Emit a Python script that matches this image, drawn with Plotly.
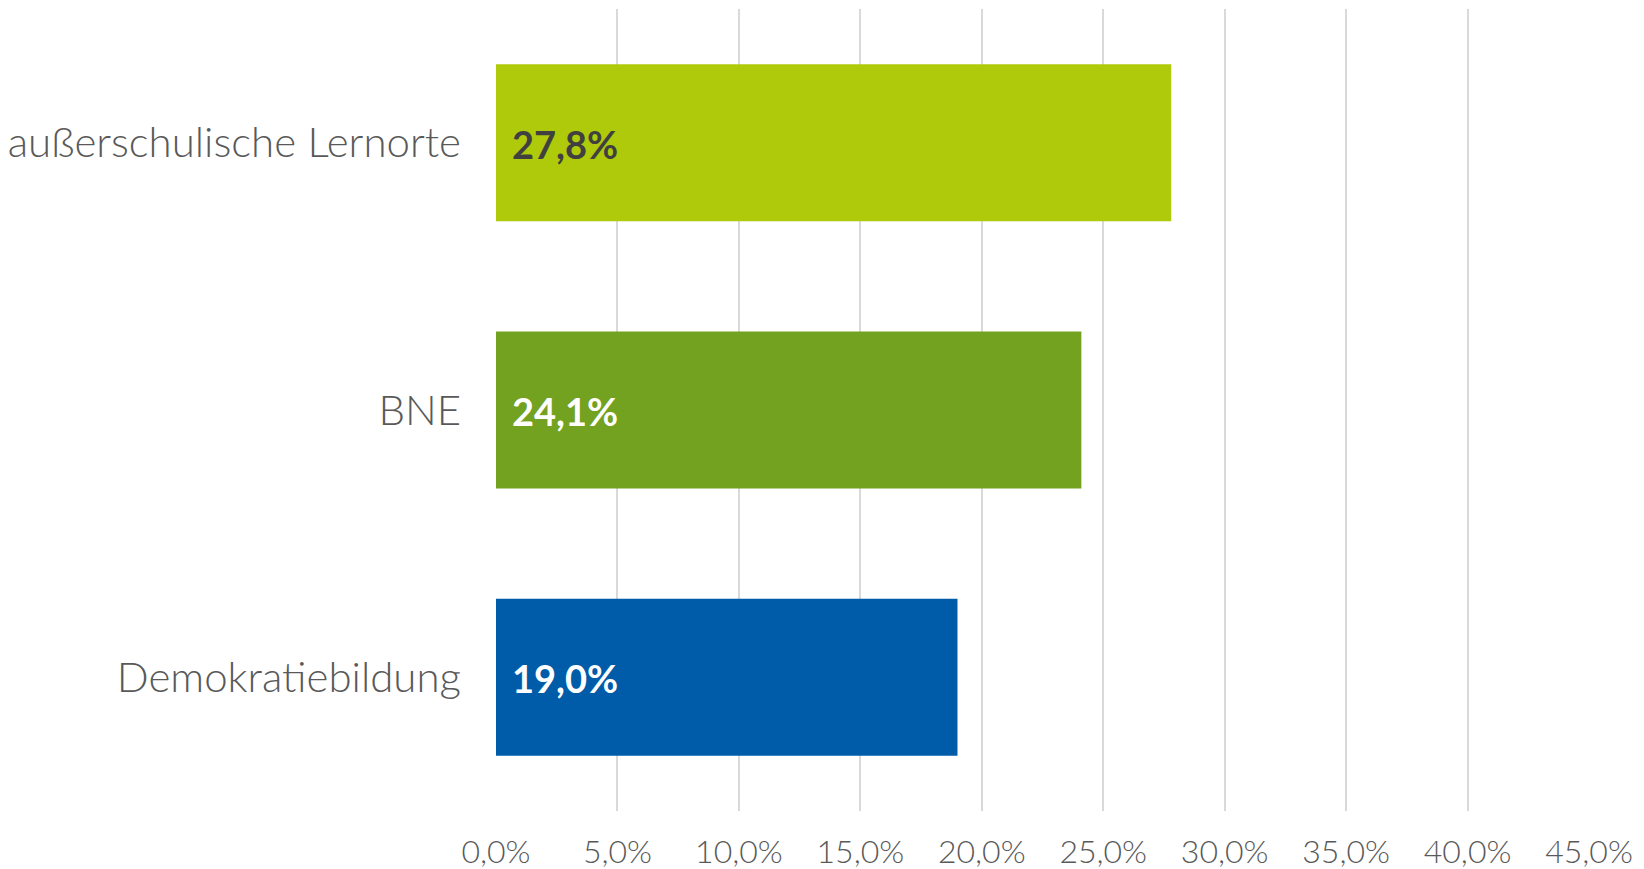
import plotly.graph_objects as go

# Share of responses per topic area (percent)
categories = ["außerschulische Lernorte", "BNE", "Demokratiebildung"]
values = [27.8, 24.1, 19.0]
bar_colors = ["#AFCA0B", "#73A120", "#005CA9"]
label_colors = ["#404040", "#FFFFFF", "#FFFFFF"]
tick_values = [0, 5, 10, 15, 20, 25, 30, 35, 40, 45]

FONT = "Lato"
TEXT_GRAY = "#595959"

fig = go.Figure(
    go.Bar(
        x=values,
        y=categories,
        orientation="h",
        marker=dict(color=bar_colors, line=dict(width=0)),
        hoverinfo="skip",
    )
)

# Value labels placed just inside the base of each bar
for cat, val, col in zip(categories, values, label_colors):
    fig.add_annotation(
        x=0, y=cat, xref="x", yref="y",
        text=f"<b>{val:.1f}%</b>".replace(".", ","),
        showarrow=False, xanchor="left", yanchor="middle",
        xshift=14, yshift=-1,
        font=dict(family=FONT, size=38, color=col),
    )

fig.update_layout(
    width=1644, height=869,
    margin=dict(l=496, r=55, t=9, b=58),
    paper_bgcolor="white", plot_bgcolor="white",
    bargap=0.413,
    showlegend=False,
    separators=",.",
    font=dict(family=FONT, size=32, color=TEXT_GRAY),
)

fig.update_xaxes(
    range=[0, 45],
    tickvals=tick_values,
    ticktext=[f"{v:.1f}%".replace(".", ",") for v in tick_values],
    showgrid=True, gridcolor="#D9D9D9", gridwidth=2,
    zeroline=False, showline=False,
    ticks="", ticklabelstandoff=19,
    tickfont=dict(family=FONT, size=32, color=TEXT_GRAY, weight=300),
    automargin=False,
    fixedrange=True,
)

fig.update_yaxes(
    autorange="reversed",
    showgrid=False, zeroline=False, showline=False,
    ticks="", ticklabelstandoff=34,
    tickfont=dict(family=FONT, size=42, color=TEXT_GRAY, weight=300),
    automargin=False,
    fixedrange=True,
)

fig.write_html("out.html")
